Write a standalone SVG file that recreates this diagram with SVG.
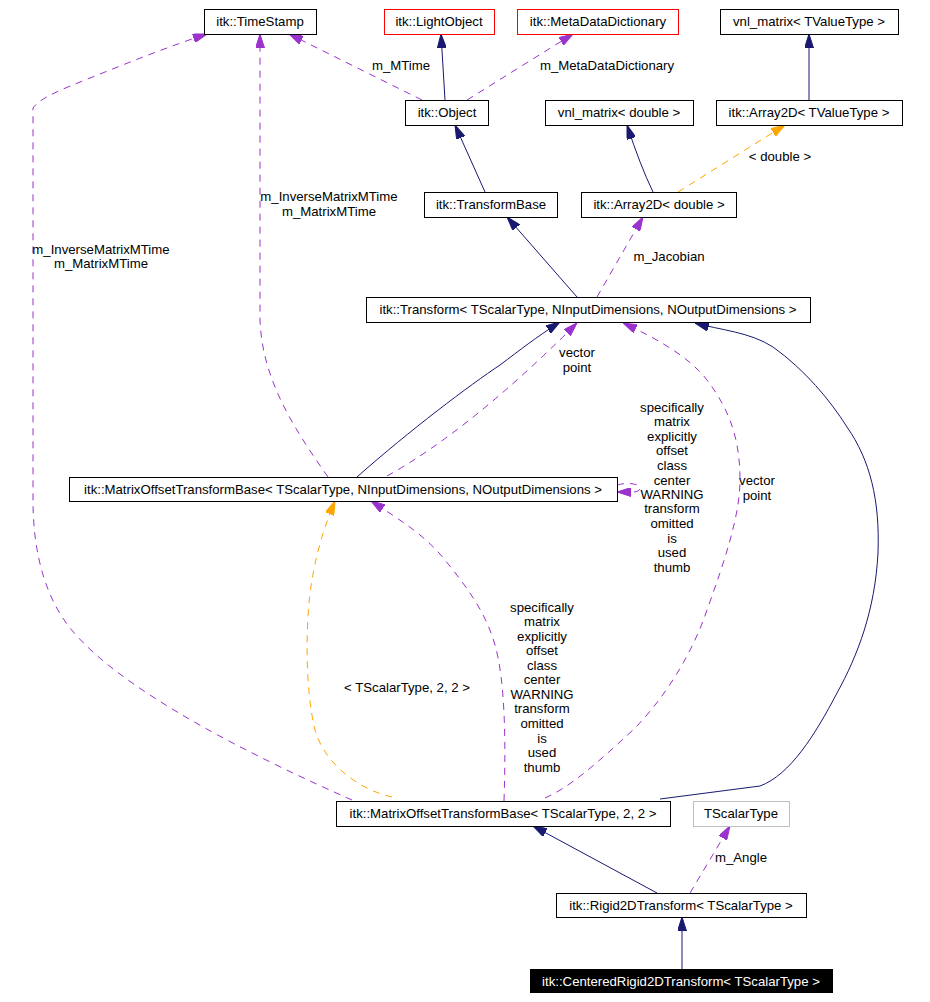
<svg xmlns="http://www.w3.org/2000/svg" width="930" height="1002" viewBox="0 0 930 1002">
<style>
text{font-family:"Liberation Sans",Arial,sans-serif;font-size:13.2px;fill:#000;text-anchor:middle}
.box{fill:#fff;stroke:#000;stroke-width:1}
.red{fill:#fff;stroke:#ff0000;stroke-width:1}
.gray{fill:#fff;stroke:#bfbfbf;stroke-width:1}
.dark{fill:#000;stroke:#000;stroke-width:1}
.wt{fill:#fff}
.inh{fill:none;stroke:#191970;stroke-width:1}
.use{fill:none;stroke:#9a32cd;stroke-width:1;stroke-dasharray:7,6}
.tpl{fill:none;stroke:#ffa500;stroke-width:1;stroke-dasharray:7,6}
</style>
<defs>
<marker id="aN" viewBox="0 0 14 9" refX="14" refY="4.5" markerWidth="14" markerHeight="9" markerUnits="userSpaceOnUse" orient="auto"><path d="M0,0 L14,4.5 L0,9 z" fill="#191970" stroke="#191970"/></marker>
<marker id="aP" viewBox="0 0 14 9" refX="14" refY="4.5" markerWidth="14" markerHeight="9" markerUnits="userSpaceOnUse" orient="auto"><path d="M0,0 L14,4.5 L0,9 z" fill="#9a32cd" stroke="#9a32cd"/></marker>
<marker id="aO" viewBox="0 0 14 9" refX="14" refY="4.5" markerWidth="14" markerHeight="9" markerUnits="userSpaceOnUse" orient="auto"><path d="M0,0 L14,4.5 L0,9 z" fill="#ffa500" stroke="#ffa500"/></marker>
</defs>
<rect width="930" height="1002" fill="#fff"/>
<g id="connectors">
<path class="inh" marker-end="url(#aN)" d="M445,100 L441,34"/>
<path class="use" marker-end="url(#aP)" d="M422,100 L289,34"/>
<text x="401" y="70">m_MTime</text>
<path class="use" marker-end="url(#aP)" d="M467,100 L573,34"/>
<text x="607" y="70">m_MetaDataDictionary</text>
<path class="inh" marker-end="url(#aN)" d="M485,192 L455,125"/>
<path class="inh" marker-end="url(#aN)" d="M653,192 Q640,165 627,125"/>
<path class="tpl" marker-end="url(#aO)" d="M678,192 L785,125"/>
<text x="780" y="161">&lt; double &gt;</text>
<path class="inh" marker-end="url(#aN)" d="M809,100 L809,34"/>
<path class="inh" marker-end="url(#aN)" d="M577,297 L507,217"/>
<path class="use" marker-end="url(#aP)" d="M597,297 L643,217"/>
<text x="669" y="261">m_Jacobian</text>
<path class="inh" marker-end="url(#aN)" d="M357,477 C410,430 470,385 500,365 C520,350 535,338 560,322"/>
<path class="use" marker-end="url(#aP)" d="M387,476 Q470,430 577,323"/>
<text x="577" y="357">vector</text>
<text x="577" y="372">point</text>
<path class="use" marker-end="url(#aP)" d="M328,477 C295,430 262,380 260,320 L260,34"/>
<text x="329" y="201">m_InverseMatrixMTime</text>
<text x="329" y="216">m_MatrixMTime</text>
<path class="use" marker-end="url(#aP)" d="M352,800 C250,755 120,690 70,628 C40,590 33,540 33,500 L33,108 C40,98 60,90 90,78 C130,62 170,46 207,34"/>
<text x="101" y="254">m_InverseMatrixMTime</text>
<text x="101" y="268">m_MatrixMTime</text>
<path class="use" marker-end="url(#aP)" d="M617,485 C628,482 638,484 640,487 C641,490 638,492 632,492 L617,492"/>
<text x="672" y="412">specifically</text>
<text x="672" y="426">matrix</text>
<text x="672" y="441">explicitly</text>
<text x="672" y="455">offset</text>
<text x="672" y="470">class</text>
<text x="672" y="485">center</text>
<text x="672" y="499">WARNING</text>
<text x="672" y="513">transform</text>
<text x="672" y="528">omitted</text>
<text x="672" y="543">is</text>
<text x="672" y="557">used</text>
<text x="672" y="572">thumb</text>
<path class="tpl" marker-end="url(#aO)" d="M392,797 C360,790 325,765 315,730 C305,690 305,620 312,580 C317,550 325,525 335,501"/>
<text x="407" y="692">&lt; TScalarType, 2, 2 &gt;</text>
<path class="use" marker-end="url(#aP)" d="M504,801 C506,740 505,680 495,645 C485,610 465,585 445,560 C425,535 400,520 371,501"/>
<text x="542" y="612">specifically</text>
<text x="542" y="626">matrix</text>
<text x="542" y="641">explicitly</text>
<text x="542" y="655">offset</text>
<text x="542" y="670">class</text>
<text x="542" y="684">center</text>
<text x="542" y="699">WARNING</text>
<text x="542" y="713">transform</text>
<text x="542" y="728">omitted</text>
<text x="542" y="743">is</text>
<text x="542" y="757">used</text>
<text x="542" y="772">thumb</text>
<path class="use" marker-end="url(#aP)" d="M545,798 C570,787 595,765 633,730 C660,703 690,660 707,610 C725,560 740,515 740,480 C740,440 730,410 707,380 C690,358 660,340 623,323"/>
<text x="757" y="485">vector</text>
<text x="757" y="500">point</text>
<path class="inh" marker-end="url(#aN)" d="M660,799 L760,786 C790,775 815,735 837,693 C858,655 875,610 878,553 C880,500 870,460 847,427 C830,400 805,370 773,347 C750,332 720,330 695,323"/>
<path class="inh" marker-end="url(#aN)" d="M657,893 L533,826"/>
<path class="use" marker-end="url(#aP)" d="M690,893 L730,826"/>
<text x="741" y="862">m_Angle</text>
<path class="inh" marker-end="url(#aN)" d="M682,969 L682,917"/>
</g>
<g id="n_timestamp"><rect class="box" x="204.5" y="9.5" width="112" height="25"/><text x="260" y="26">itk::TimeStamp</text></g>
<g id="n_lightobject"><rect class="red" x="384.5" y="9.5" width="110" height="25"/><text x="439" y="26">itk::LightObject</text></g>
<g id="n_metadatadictionary"><rect class="red" x="517.5" y="9.5" width="161" height="25"/><text x="598" y="26">itk::MetaDataDictionary</text></g>
<g id="n_vnl_tvalue"><rect class="box" x="720.5" y="9.5" width="178" height="25"/><text x="809" y="26">vnl_matrix&lt; TValueType &gt;</text></g>
<g id="n_object"><rect class="box" x="405.5" y="100.5" width="83" height="25"/><text x="447" y="117">itk::Object</text></g>
<g id="n_vnl_double"><rect class="box" x="545.5" y="100.5" width="148" height="25"/><text x="619" y="117">vnl_matrix&lt; double &gt;</text></g>
<g id="n_array2d_tvalue"><rect class="box" x="716.5" y="100.5" width="186" height="25"/><text x="809" y="117">itk::Array2D&lt; TValueType &gt;</text></g>
<g id="n_transformbase"><rect class="box" x="424.5" y="192.5" width="133" height="25"/><text x="491" y="209">itk::TransformBase</text></g>
<g id="n_array2d_double"><rect class="box" x="581.5" y="192.5" width="155" height="25"/><text x="659" y="209">itk::Array2D&lt; double &gt;</text></g>
<g id="n_transform"><rect class="box" x="366.5" y="297.5" width="444" height="25"/><text x="588" y="314">itk::Transform&lt; TScalarType, NInputDimensions, NOutputDimensions &gt;</text></g>
<g id="n_motb_n"><rect class="box" x="69.5" y="477.5" width="548" height="24"/><text x="343" y="494">itk::MatrixOffsetTransformBase&lt; TScalarType, NInputDimensions, NOutputDimensions &gt;</text></g>
<g id="n_motb_22"><rect class="box" x="336.5" y="801.5" width="334" height="25"/><text x="503" y="818">itk::MatrixOffsetTransformBase&lt; TScalarType, 2, 2 &gt;</text></g>
<g id="n_tscalartype"><rect class="gray" x="693.5" y="801.5" width="96" height="25"/><text x="741" y="818">TScalarType</text></g>
<g id="n_rigid2d"><rect class="box" x="556.5" y="893.5" width="250" height="24"/><text x="681" y="910">itk::Rigid2DTransform&lt; TScalarType &gt;</text></g>
<g id="n_centered"><rect class="dark" x="530.5" y="969.5" width="302" height="23"/><text class="wt" x="681" y="986">itk::CenteredRigid2DTransform&lt; TScalarType &gt;</text></g>
</svg>
